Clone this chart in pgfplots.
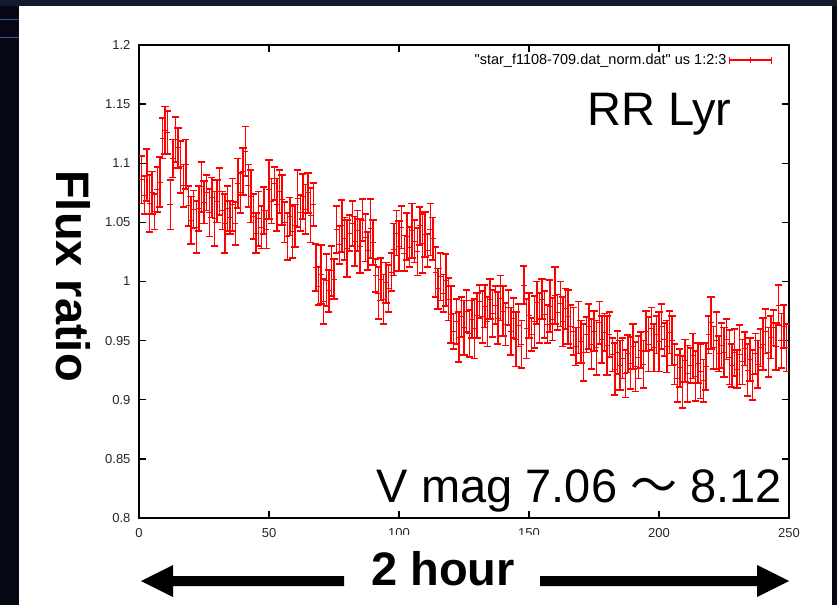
\documentclass[border=0pt]{standalone}
\usepackage{fontspec}
\setmainfont{Liberation Sans}
\newfontfamily\legfont{Liberation Sans}[Ligatures=TeXOff]
\newfontfamily\cjk{Noto Sans CJK JP}
\usepackage{pgfplots}
\pgfplotsset{compat=1.18}
\usepackage{pgfplotstable}
\definecolor{bgdark}{HTML}{060913}
\definecolor{bgtop}{HTML}{141B2E}
\definecolor{bgblue}{HTML}{3A5595}

\pgfplotstableread{
x y e
1 1.086 0.020
2 1.073 0.016
3 1.090 0.022
4 1.066 0.024
5 1.075 0.018
6 1.059 0.015
7 1.078 0.019
8 1.084 0.021
9 1.121 0.017
10 1.128 0.020
11 1.126 0.018
12 1.065 0.021
13 1.104 0.016
14 1.120 0.019
15 1.113 0.017
16 1.097 0.022
17 1.081 0.018
18 1.099 0.021
19 1.064 0.017
20 1.052 0.020
21 1.061 0.016
22 1.046 0.022
23 1.062 0.019
24 1.080 0.021
25 1.067 0.018
26 1.075 0.015
27 1.058 0.020
28 1.071 0.017
29 1.053 0.023
30 1.068 0.018
31 1.076 0.020
32 1.060 0.016
33 1.049 0.025
34 1.062 0.019
35 1.054 0.014
36 1.065 0.022
37 1.049 0.018
38 1.083 0.021
39 1.075 0.017
40 1.093 0.020
41 1.110 0.021
42 1.081 0.018
43 1.072 0.022
44 1.055 0.019
45 1.041 0.017
46 1.053 0.023
47 1.046 0.018
48 1.060 0.020
49 1.044 0.016
50 1.078 0.025
51 1.068 0.019
52 1.083 0.014
53 1.065 0.022
54 1.076 0.018
55 1.069 0.021
56 1.050 0.017
57 1.038 0.020
58 1.055 0.016
59 1.042 0.022
60 1.047 0.018
61 1.070 0.024
62 1.058 0.015
63 1.072 0.019
64 1.061 0.021
65 1.075 0.017
66 1.056 0.023
67 1.065 0.018
68 1.012 0.020
69 0.996 0.016
70 1.006 0.025
71 0.983 0.019
72 1.001 0.022
73 0.992 0.018
74 1.009 0.021
75 1.002 0.017
76 1.044 0.020
77 1.031 0.016
78 1.047 0.022
79 1.036 0.018
80 1.028 0.024
81 1.041 0.015
82 1.049 0.019
83 1.034 0.021
84 1.043 0.017
85 1.030 0.023
86 1.052 0.018
87 1.037 0.020
88 1.026 0.016
89 1.045 0.025
90 1.033 0.019
91 1.005 0.014
92 0.990 0.022
93 1.002 0.018
94 0.985 0.021
95 0.999 0.017
96 0.994 0.020
97 1.008 0.016
98 1.027 0.022
99 1.041 0.019
100 1.030 0.021
101 1.046 0.018
102 1.024 0.015
103 1.038 0.020
104 1.029 0.017
105 1.043 0.023
106 1.034 0.018
107 1.025 0.020
108 1.047 0.016
109 1.032 0.025
110 1.040 0.019
111 1.026 0.014
112 1.044 0.022
113 1.036 0.018
114 1.008 0.021
115 0.994 0.017
116 1.004 0.020
117 0.990 0.016
118 1.001 0.022
119 0.985 0.018
120 0.972 0.024
121 0.958 0.015
122 0.966 0.019
123 0.953 0.021
124 0.970 0.017
125 0.961 0.023
126 0.975 0.018
127 0.956 0.020
128 0.968 0.016
129 0.960 0.025
130 0.971 0.019
131 0.983 0.014
132 0.970 0.022
133 0.979 0.018
134 0.966 0.021
135 0.985 0.017
136 0.973 0.020
137 0.980 0.016
138 0.969 0.022
139 0.986 0.019
140 0.975 0.021
141 0.964 0.018
142 0.978 0.015
143 0.958 0.020
144 0.969 0.017
145 0.951 0.023
146 0.963 0.018
147 0.947 0.020
148 0.997 0.016
149 0.960 0.025
150 0.971 0.019
151 0.955 0.014
152 0.966 0.022
153 0.982 0.018
154 0.969 0.021
155 0.985 0.017
156 0.972 0.020
157 0.964 0.016
158 0.979 0.022
159 0.968 0.018
160 0.988 0.024
161 0.974 0.015
162 0.981 0.019
163 0.966 0.021
164 0.977 0.017
165 0.970 0.023
166 0.962 0.018
167 0.958 0.020
168 0.945 0.016
169 0.961 0.022
170 0.949 0.018
171 0.940 0.024
172 0.955 0.015
173 0.962 0.019
174 0.947 0.021
175 0.958 0.017
176 0.944 0.023
177 0.965 0.018
178 0.951 0.020
179 0.957 0.016
180 0.946 0.025
181 0.955 0.019
182 0.938 0.014
183 0.926 0.022
184 0.940 0.018
185 0.929 0.021
186 0.935 0.017
187 0.922 0.020
188 0.939 0.016
189 0.931 0.022
190 0.945 0.019
191 0.928 0.021
192 0.936 0.018
193 0.942 0.015
194 0.930 0.020
195 0.958 0.017
196 0.947 0.023
197 0.960 0.018
198 0.944 0.020
199 0.955 0.016
200 0.949 0.025
201 0.962 0.019
202 0.951 0.014
203 0.945 0.022
204 0.957 0.018
205 0.950 0.021
206 0.930 0.017
207 0.918 0.020
208 0.927 0.016
209 0.915 0.022
210 0.933 0.018
211 0.922 0.024
212 0.929 0.015
213 0.937 0.019
214 0.920 0.021
215 0.931 0.017
216 0.924 0.023
217 0.916 0.018
218 0.928 0.020
219 0.955 0.016
220 0.965 0.022
221 0.944 0.018
222 0.950 0.024
223 0.939 0.015
224 0.946 0.019
225 0.940 0.021
226 0.951 0.017
227 0.936 0.023
228 0.929 0.018
229 0.940 0.020
230 0.926 0.016
231 0.938 0.025
232 0.932 0.019
233 0.943 0.014
234 0.925 0.022
235 0.934 0.018
236 0.921 0.021
237 0.939 0.017
238 0.930 0.020
239 0.944 0.016
240 0.947 0.022
241 0.958 0.019
242 0.940 0.021
243 0.953 0.018
244 0.961 0.015
245 0.945 0.020
246 0.980 0.017
247 0.950 0.023
248 0.962 0.018
249 0.944 0.020
}\fluxdata

\begin{document}
\begin{tikzpicture}[x=1pt,y=1pt]
\useasboundingbox (0,0) rectangle (837,605);
\fill[bgdark] (0,0) rectangle (837,605);
\fill[bgtop] (0,599) rectangle (837,605);
\draw[bgblue, line width=1pt] (0,585) -- (19,585);
\draw[bgblue, line width=1pt] (0,567) -- (19,567);
\fill[white] (19,0) rectangle (832,599);
\begin{axis}[
  at={(139pt,87pt)}, anchor=south west,
  scale only axis, width=650pt, height=473pt,
  xmin=0, xmax=250, ymin=0.8, ymax=1.2,
  xtick={0,50,100,150,200,250},
  xticklabels={0,50,100,150,200,250},
  ytick={0.8,0.85,0.9,0.95,1,1.05,1.1,1.15,1.2},
  yticklabels={0.8,0.85,0.9,0.95,1,1.05,1.1,1.15,1.2},
  tick align=inside, major tick length=7pt,
  axis line style={line width=1.5pt, black},
  every tick/.style={black, line width=1.3pt},
  /pgf/number format/assume math mode=true,
  tick label style={font=\fontsize{13}{13}\selectfont, text=black!85},
  xticklabel style={yshift=-7pt},
  yticklabel style={xshift=-5pt},
  legend style={draw=none, fill=none, at={(0.974,0.968)}, anchor=east,
    font=\legfont\fontsize{14.5}{14.5}\selectfont, inner sep=0pt},
  legend plot pos=right,
  legend cell align=right,
  legend image code/.code={
    \draw[red, line width=1.4pt] (0pt,0pt) -- (42pt,0pt);
    \draw[red, line width=1.1pt] (0pt,-3.5pt) -- (0pt,3.5pt) (21pt,-3pt) -- (21pt,3pt) (42pt,-3.5pt) -- (42pt,3.5pt);
  },
]
\addplot[red, only marks, mark=+, mark size=2.8pt, mark options={line width=1pt},
  error bars/.cd, y dir=both, y explicit, error mark=|,
  error mark options={red, mark size=3.6pt, line width=1.7pt},
  error bar style={red, line width=1.4pt}]
  table[x=x, y=y, y error=e]{\fluxdata};
\addlegendentry{"star\_f1108-709.dat\_norm.dat" us 1:2:3}
\node[anchor=base east, inner sep=0pt, font=\fontsize{47}{47}\selectfont] at (axis cs:228,1.1323) {RR Lyr};
\node[anchor=base east, inner sep=0pt, font=\fontsize{47}{47}\selectfont] at (axis cs:247.3,0.8135) {V mag 7.06 {\cjk ～} 8.12};
\end{axis}
% white box covering part of tick labels (from slide text box)
\fill[white] (332,45) rectangle (600,70.5);
\node[rotate=-90, anchor=base, inner sep=0pt, font=\fontsize{47}{47}\selectfont\bfseries] at (56,329) {Flux ratio};
\node[anchor=base, inner sep=0pt, font=\fontsize{47}{47}\selectfont\bfseries] at (443,20) {2 hour};
\fill[black] (141,24) -- (173,40) -- (173,29) -- (344,29) -- (344,19) -- (173,19) -- (173,8) -- cycle;
\fill[black] (789,24) -- (757,40) -- (757,29) -- (540,29) -- (540,19) -- (757,19) -- (757,8) -- cycle;
\end{tikzpicture}
\end{document}
